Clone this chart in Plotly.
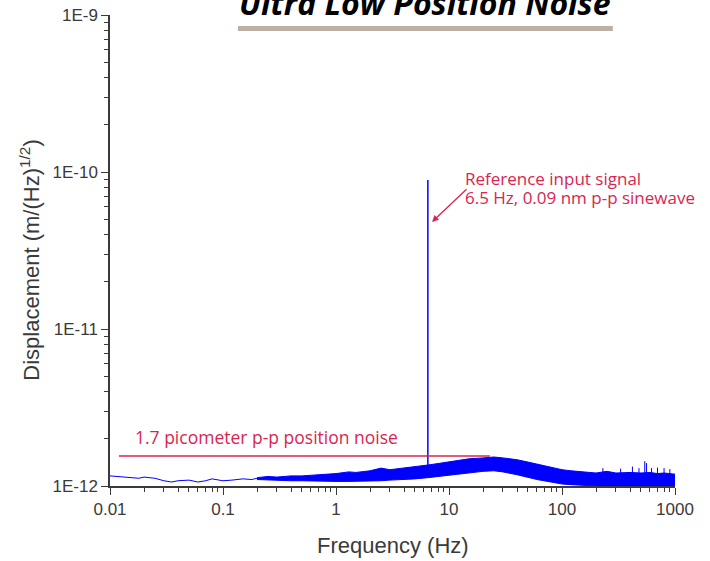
import plotly.graph_objects as go

# ---------------- data ----------------
# low-frequency thin trace
freq_low = [0.01, 0.012, 0.015, 0.018, 0.02, 0.025, 0.03, 0.035, 0.04, 0.05,
            0.06, 0.07, 0.08, 0.1, 0.12, 0.15, 0.18, 0.2]
disp_low = [1.16e-12, 1.15e-12, 1.14e-12, 1.12e-12, 1.14e-12, 1.12e-12, 1.08e-12,
            1.06e-12, 1.08e-12, 1.09e-12, 1.06e-12, 1.08e-12, 1.11e-12, 1.08e-12,
            1.09e-12, 1.11e-12, 1.10e-12, 1.12e-12]

# dense noise band (upper / lower envelope)
freq_band = [0.2, 0.25, 0.3, 0.4, 0.5, 0.7, 1, 1.3, 1.5, 2, 2.5, 3, 4, 5, 6.5, 8,
             10, 12, 15, 20, 25, 30, 40, 50, 60, 80, 100, 120, 150, 200, 250, 300,
             400, 500, 600, 700, 800, 1000]
band_upper = [1.13e-12, 1.15e-12, 1.14e-12, 1.16e-12, 1.16e-12, 1.18e-12, 1.20e-12,
              1.23e-12, 1.22e-12, 1.25e-12, 1.30e-12, 1.27e-12, 1.30e-12, 1.32e-12,
              1.36e-12, 1.39e-12, 1.42e-12, 1.45e-12, 1.49e-12, 1.51e-12, 1.53e-12,
              1.51e-12, 1.47e-12, 1.42e-12, 1.38e-12, 1.31e-12, 1.27e-12, 1.25e-12,
              1.23e-12, 1.21e-12, 1.24e-12, 1.21e-12, 1.22e-12, 1.21e-12, 1.22e-12,
              1.20e-12, 1.21e-12, 1.19e-12]
band_lower = [1.10e-12, 1.09e-12, 1.09e-12, 1.08e-12, 1.08e-12, 1.07e-12, 1.07e-12,
              1.07e-12, 1.07e-12, 1.08e-12, 1.08e-12, 1.09e-12, 1.10e-12, 1.11e-12,
              1.13e-12, 1.15e-12, 1.17e-12, 1.19e-12, 1.22e-12, 1.24e-12, 1.25e-12,
              1.23e-12, 1.18e-12, 1.13e-12, 1.10e-12, 1.06e-12, 1.03e-12, 1.02e-12,
              1.01e-12, 1.00e-12, 1.00e-12, 1.00e-12, 1.00e-12, 1.00e-12, 1.00e-12,
              1.00e-12, 1.00e-12, 1.00e-12]

# narrow spurs above the band at high frequency
spur_freq = [230, 330, 420, 480, 540, 560, 620, 700, 800, 900]
spur_top = [1.30e-12, 1.29e-12, 1.33e-12, 1.30e-12, 1.44e-12, 1.40e-12, 1.30e-12,
            1.31e-12, 1.30e-12, 1.28e-12]

# reference input signal
signal_freq = 6.5
signal_base = 1.30e-12
signal_peak = 8.9e-11

# noise level line
noise_freq = [0.012, 23]
noise_level = [1.55e-12, 1.55e-12]

x_tickvals = [0.01, 0.1, 1, 10, 100, 1000]
x_ticktext = ["0.01", "0.1", "1", "10", "100", "1000"]
y_tickvals = [1e-12, 1e-11, 1e-10, 1e-9]
y_ticktext = ["1E-12", "1E-11", "1E-10", "1E-9"]

BLUE = "#0000ff"
RED = "#d9254f"
AX = "#3a3a3a"

fig = go.Figure()

fig.add_trace(go.Scatter(x=freq_band, y=band_lower, mode="lines",
                         line=dict(color=BLUE, width=1), showlegend=False,
                         hoverinfo="skip"))
fig.add_trace(go.Scatter(x=freq_band, y=band_upper, mode="lines",
                         line=dict(color=BLUE, width=1), fill="tonexty",
                         fillcolor=BLUE, showlegend=False, hoverinfo="skip"))
fig.add_trace(go.Scatter(x=freq_low, y=disp_low, mode="lines",
                         line=dict(color=BLUE, width=1), showlegend=False))

spx, spy = [], []
for f, t in zip(spur_freq, spur_top):
    spx += [f, f, None]
    spy += [1.15e-12, t, None]
fig.add_trace(go.Scatter(x=spx, y=spy, mode="lines",
                         line=dict(color=BLUE, width=1), showlegend=False))

fig.add_trace(go.Scatter(x=[signal_freq, signal_freq], y=[signal_base, signal_peak],
                         mode="lines", line=dict(color=BLUE, width=1.5),
                         showlegend=False))

fig.add_trace(go.Scatter(x=noise_freq, y=noise_level, mode="lines",
                         line=dict(color=RED, width=1.5), showlegend=False))

TF = "Liberation Sans, Arial, sans-serif"
axis_common = dict(
    type="log", showgrid=False, zeroline=False, showline=True, linecolor=AX,
    linewidth=1.5, ticks="outside", ticklen=7, tickwidth=1.3, tickcolor=AX,
    tickfont=dict(family=TF, size=17, color=AX), automargin=False,
    ticklabeloverflow="allow",
    minor=dict(ticks="outside", ticklen=4, tickwidth=1, tickcolor=AX,
               dtick="D1", showgrid=False),
)

fig.update_xaxes(range=[-2, 3], tickvals=x_tickvals, ticktext=x_ticktext, **axis_common)
fig.update_yaxes(range=[-12, -9], tickvals=y_tickvals, ticktext=y_ticktext, **axis_common)

# axis titles
fig.add_annotation(x=0.501, y=-0.127, xref="paper", yref="paper", text="Frequency (Hz)",
                   showarrow=False, font=dict(family=TF, size=22, color=AX),
                   xanchor="center", yanchor="middle")
fig.add_annotation(x=-0.142, y=0.48, xref="paper", yref="paper",
                   text="Displacement (m/(Hz)<sup>1/2</sup>)", textangle=-90,
                   showarrow=False, font=dict(family=TF, size=22, color=AX),
                   xanchor="center", yanchor="middle")

RF = "Open Sans, Lato, sans-serif"
fig.add_annotation(x=-0.619, y=-11.688, xref="x", yref="y",
                   text="1.7 picometer p-p position noise",
                   showarrow=False, font=dict(family=RF, size=17.5, color=RED),
                   xanchor="center", yanchor="middle")
fig.add_annotation(x=1.124, y=-10.0445, xref="x", yref="y",
                   text="Reference input signal",
                   showarrow=False, font=dict(family=RF, size=17, color=RED),
                   xanchor="left", yanchor="middle")
fig.add_annotation(x=1.124, y=-10.1655, xref="x", yref="y",
                   text="6.5 Hz, 0.09 nm p-p sinewave",
                   showarrow=False, font=dict(family=RF, size=17, color=RED),
                   xanchor="left", yanchor="middle")
fig.add_annotation(x=0.85, y=-10.318, xref="x", yref="y", text="",
                   showarrow=True, ax=36, ay=-34, arrowcolor=RED,
                   arrowhead=2, arrowsize=1, arrowwidth=1.3)

# title and underline bar
fig.add_annotation(x=0.5575, y=0.976, xref="paper", yref="paper",
                   text="Ultra Low Position Noise", showarrow=False,
                   font=dict(family="Open Sans, sans-serif", size=32, color="#000000",
                             weight=700, style="italic"),
                   xanchor="center", yanchor="bottom")
fig.add_shape(type="rect", xref="paper", yref="paper", x0=0.2265, x1=0.890,
              y0=0.966, y1=0.9766, fillcolor="#bdb0a3", line=dict(width=0), layer="above")

fig.update_layout(
    width=710, height=561,
    margin=dict(l=110, r=35, t=15, b=75),
    paper_bgcolor="white", plot_bgcolor="white",
    showlegend=False,
)

# remove the default page margin so the figure sits at the window's top-left corner
fig.write_html("out.html", config={"displayModeBar": False},
               post_script="document.body.style.margin='0';document.body.style.padding='0';")
